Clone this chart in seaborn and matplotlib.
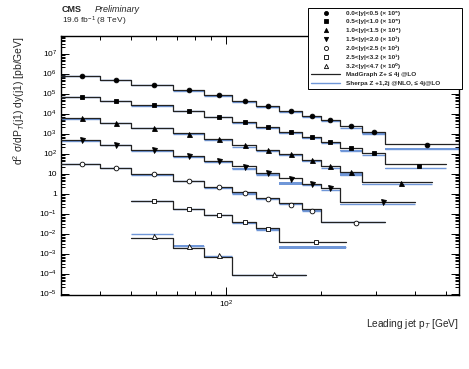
import numpy as np
import matplotlib
matplotlib.use("Agg")
import matplotlib.pyplot as plt
from matplotlib.lines import Line2D
from matplotlib.ticker import LogLocator, FuncFormatter, NullFormatter
import seaborn as sns

# bin edges for each rapidity slice [GeV]
edges_y1 = [30, 40, 50, 68, 85, 105, 125, 148, 175, 200, 230, 270, 320, 550]
edges_y2 = [30, 40, 50, 68, 85, 105, 125, 148, 175, 200, 230, 270, 320, 500]
edges_y3 = [30, 40, 50, 68, 85, 105, 125, 148, 175, 200, 230, 270, 450]
edges_y4 = [30, 40, 50, 68, 85, 105, 125, 148, 175, 200, 230, 400]
edges_y5 = [30, 40, 50, 68, 85, 105, 125, 148, 175, 200, 320]
edges_y6 = [50, 68, 85, 105, 125, 148, 240]
edges_y7 = [50, 68, 85, 105, 180]

# measured cross sections [pb/GeV] (unscaled)
data_y1 = [0.78, 0.47, 0.28, 0.145, 0.081, 0.042, 0.024, 0.0133, 0.0076, 0.0047, 0.0025, 0.00125, 0.00026]
data_y2 = [0.69, 0.44, 0.26, 0.133, 0.067, 0.0376, 0.021, 0.0115, 0.0065, 0.0038, 0.0019, 0.00102, 0.00023]
data_y3 = [0.58, 0.35, 0.195, 0.10, 0.051, 0.026, 0.015, 0.0091, 0.0049, 0.0024, 0.00125, 0.00035]
data_y4 = [0.47, 0.275, 0.15, 0.075, 0.041, 0.021, 0.0105, 0.0056, 0.0029, 0.0018, 0.00036]
data_y5 = [0.31, 0.18, 0.091, 0.042, 0.021, 0.0105, 0.0053, 0.0028, 0.0014, 0.00033]
data_y6 = [0.042, 0.0175, 0.0087, 0.0036, 0.0016, 0.00036]
data_y7 = [0.0075, 0.00237, 0.00084, 0.000091]

# MadGraph Z + <=4j @LO
mg_y1 = [0.776, 0.473, 0.275, 0.145, 0.0813, 0.0422, 0.0237, 0.0133, 0.0075, 0.00473, 0.00245, 0.00123, 0.000288]
mg_y2 = [0.692, 0.437, 0.257, 0.133, 0.0668, 0.0376, 0.0211, 0.0115, 0.00646, 0.00376, 0.00188, 0.00102, 0.000288]
mg_y3 = [0.575, 0.347, 0.195, 0.102, 0.0513, 0.0257, 0.0150, 0.00912, 0.0049, 0.00237, 0.00123, 0.000363]
mg_y4 = [0.473, 0.275, 0.150, 0.075, 0.0407, 0.0245, 0.011, 0.00575, 0.00299, 0.00182, 0.00039]
mg_y5 = [0.309, 0.182, 0.0912, 0.0422, 0.0211, 0.0115, 0.00596, 0.00324, 0.00162, 0.000376]
mg_y6 = [0.0422, 0.0174, 0.0087, 0.00389, 0.00195, 0.00039]
mg_y7 = [0.00617, 0.00195, 0.000668, 0.0000841]

# Sherpa Z + 1,2j @NLO, <=4j @LO and its relative uncertainty
sh_y1 = [0.741, 0.452, 0.263, 0.138, 0.0776, 0.0376, 0.0211, 0.0118, 0.0067, 0.0042, 0.00186, 0.00097, 0.00017]
sh_y2 = [0.661, 0.417, 0.245, 0.127, 0.0638, 0.0335, 0.0188, 0.0102, 0.00576, 0.00335, 0.00139, 0.00085, 0.000182]
sh_y3 = [0.536, 0.324, 0.182, 0.095, 0.0457, 0.0214, 0.0134, 0.0081, 0.0041, 0.00188, 0.00087, 0.000288]
sh_y4 = [0.441, 0.257, 0.140, 0.070, 0.038, 0.0173, 0.0087, 0.00323, 0.00266, 0.00151, 0.00029]
sh_y5 = [0.302, 0.178, 0.0891, 0.0412, 0.0188, 0.0098, 0.0051, 0.00302, 0.00138, 0.000376]
sh_y6 = [0.0412, 0.017, 0.0081, 0.00347, 0.00155, 0.000205]
sh_y7 = [0.00935, 0.00245, 0.00077, 0.0000841]

sherr_y1 = [0.02, 0.02, 0.02, 0.02, 0.02, 0.03, 0.03, 0.03, 0.03, 0.03, 0.04, 0.04, 0.08]
sherr_y2 = [0.02, 0.02, 0.02, 0.02, 0.02, 0.03, 0.03, 0.03, 0.03, 0.03, 0.05, 0.04, 0.08]
sherr_y3 = [0.02, 0.02, 0.02, 0.02, 0.02, 0.03, 0.03, 0.03, 0.03, 0.05, 0.15, 0.04]
sherr_y4 = [0.02, 0.02, 0.02, 0.02, 0.02, 0.05, 0.03, 0.18, 0.03, 0.03, 0.04]
sherr_y5 = [0.02, 0.02, 0.02, 0.02, 0.02, 0.03, 0.03, 0.03, 0.03, 0.03]
sherr_y6 = [0.02, 0.02, 0.02, 0.03, 0.05, 0.15]
sherr_y7 = [0.03, 0.03, 0.03, 0.03]

scales = [1e6, 1e5, 1e4, 1e3, 1e2, 1e1, 1e0]
labels = ["0.0<|y|<0.5 (\u00d7 10\u2076)", "0.5<|y|<1.0 (\u00d7 10\u2075)",
          "1.0<|y|<1.5 (\u00d7 10\u2074)", "1.5<|y|<2.0 (\u00d7 10\u00b3)",
          "2.0<|y|<2.5 (\u00d7 10\u00b2)", "2.5<|y|<3.2 (\u00d7 10\u00b9)",
          "3.2<|y|<4.7 (\u00d7 10\u2070)"]

sns.set_style("ticks")
plt.rcParams['font.family'] = ['Liberation Sans', 'DejaVu Sans']
plt.rcParams['mathtext.fontset'] = 'custom'
plt.rcParams['mathtext.rm'] = 'Liberation Sans'
plt.rcParams['mathtext.it'] = 'Liberation Sans:italic'
plt.rcParams['mathtext.bf'] = 'Liberation Sans:bold'

edges_all = [edges_y1, edges_y2, edges_y3, edges_y4, edges_y5, edges_y6, edges_y7]
data_all = [data_y1, data_y2, data_y3, data_y4, data_y5, data_y6, data_y7]
mg_all = [mg_y1, mg_y2, mg_y3, mg_y4, mg_y5, mg_y6, mg_y7]
sh_all = [sh_y1, sh_y2, sh_y3, sh_y4, sh_y5, sh_y6, sh_y7]
sherr_all = [sherr_y1, sherr_y2, sherr_y3, sherr_y4, sherr_y5, sherr_y6, sherr_y7]

markers = ['o', 's', '^', 'v', 'o', 's', '^']
filled = [True, True, True, True, False, False, False]
msizes = [3.4, 3.1, 3.6, 3.6, 3.4, 3.2, 3.6]
blue = '#7097d8'
black = '#222222'

fig = plt.figure(figsize=(4.69, 3.69), dpi=100)
ax = fig.add_axes([61/469, 1-295/369, 398/469, 259/369])
ax.set_xscale('log')
ax.set_yscale('log')

for i in range(7):
    e = np.array(edges_all[i], dtype=float)
    s = scales[i]
    sh = np.array(sh_all[i]) * s
    err = np.array(sherr_all[i])
    # Sherpa: band + line per bin
    ax.bar(e[:-1], sh * 2 * err, width=np.diff(e), bottom=sh * (1 - err),
           align='edge', color=blue, linewidth=0, zorder=2)
    ax.hlines(sh, e[:-1], e[1:], color=blue, lw=1.0, zorder=2)
    # MadGraph step
    mg = np.array(mg_all[i]) * s
    sns.lineplot(x=e, y=np.append(mg, mg[-1]), drawstyle='steps-post', color=black,
                 lw=0.9, estimator=None, sort=False, legend=False, ax=ax, zorder=3)
    # data markers at bin centre
    xc = 0.5 * (e[:-1] + e[1:])
    ax.plot(xc, np.array(data_all[i]) * s, ls='none', marker=markers[i], ms=msizes[i],
            mfc='black' if filled[i] else 'white', mec='black', mew=0.6, zorder=4)

ax.set_xlim(30, 550)
ax.set_ylim(10**-5.075, 10**7.875)

ax.yaxis.set_major_locator(LogLocator(base=10, numticks=20))
ax.yaxis.set_minor_locator(LogLocator(base=10, subs=np.arange(2, 10), numticks=20))
def ylab(v, pos):
    k = int(round(np.log10(v)))
    if k == 0:
        return "1"
    if k == 1:
        return "10"
    return r"$10^{%d}$" % k
ax.yaxis.set_major_formatter(FuncFormatter(ylab))
ax.yaxis.set_minor_formatter(NullFormatter())
ax.set_xticks([100])
ax.set_xticklabels([r"$10^{2}$"])
ax.xaxis.set_minor_locator(LogLocator(base=10, subs=np.arange(2, 10), numticks=20))
ax.xaxis.set_minor_formatter(NullFormatter())

ax.tick_params(which='both', direction='in', top=True, right=True, width=0.7, colors='black')
ax.tick_params(which='major', length=6, labelsize=6, pad=3)
ax.tick_params(which='minor', length=3)
for sp in ax.spines.values():
    sp.set_linewidth(1.0)
    sp.set_color('black')

ax.set_ylabel("d$^{2}$ \u03c3/dP$_{T}$(j1) dy(j1) [pb/GeV]", fontsize=7.5)
ax.yaxis.set_label_coords(-0.085, 1.0)
ax.yaxis.label.set_horizontalalignment('right')
ax.set_xlabel(r"Leading jet p$_{T}$ [GeV]", fontsize=7.3, loc='right', labelpad=5)

fig.text(62/469, 1-12.5/369, "CMS", fontsize=6.5, fontweight='bold')
fig.text(95/469, 1-12.5/369, "Preliminary", fontsize=6.5, style='italic')
fig.text(62/469, 1-23/369, "19.6 fb$^{-1}$ (8 TeV)", fontsize=6)

handles = []
for i in range(7):
    handles.append(Line2D([], [], ls='none', marker=markers[i], ms=msizes[i] * 0.85,
                          mfc='black' if filled[i] else 'white', mec='black', mew=0.6))
handles.append(Line2D([], [], color=black, lw=0.9))
handles.append(Line2D([], [], color=blue, lw=1.0))
leg_labels = labels + ["MadGraph Z+ \u2264 4j @LO", "Sherpa Z +1,2j @NLO, \u2264 4j@LO"]
leg = fig.legend(handles, leg_labels, loc='upper left',
                 bbox_to_anchor=(308/469, 1-8/369, 154/469, 0.0), mode='expand',
                 prop={'weight': 'bold', 'size': 4.6}, frameon=True, fancybox=False,
                 edgecolor='black', framealpha=1, handlelength=4.6, handleheight=0.5,
                 handletextpad=0.9, labelspacing=0.52, borderpad=0.45, borderaxespad=0)
leg.get_frame().set_linewidth(0.7)

fig.savefig("out.png", dpi=100)
